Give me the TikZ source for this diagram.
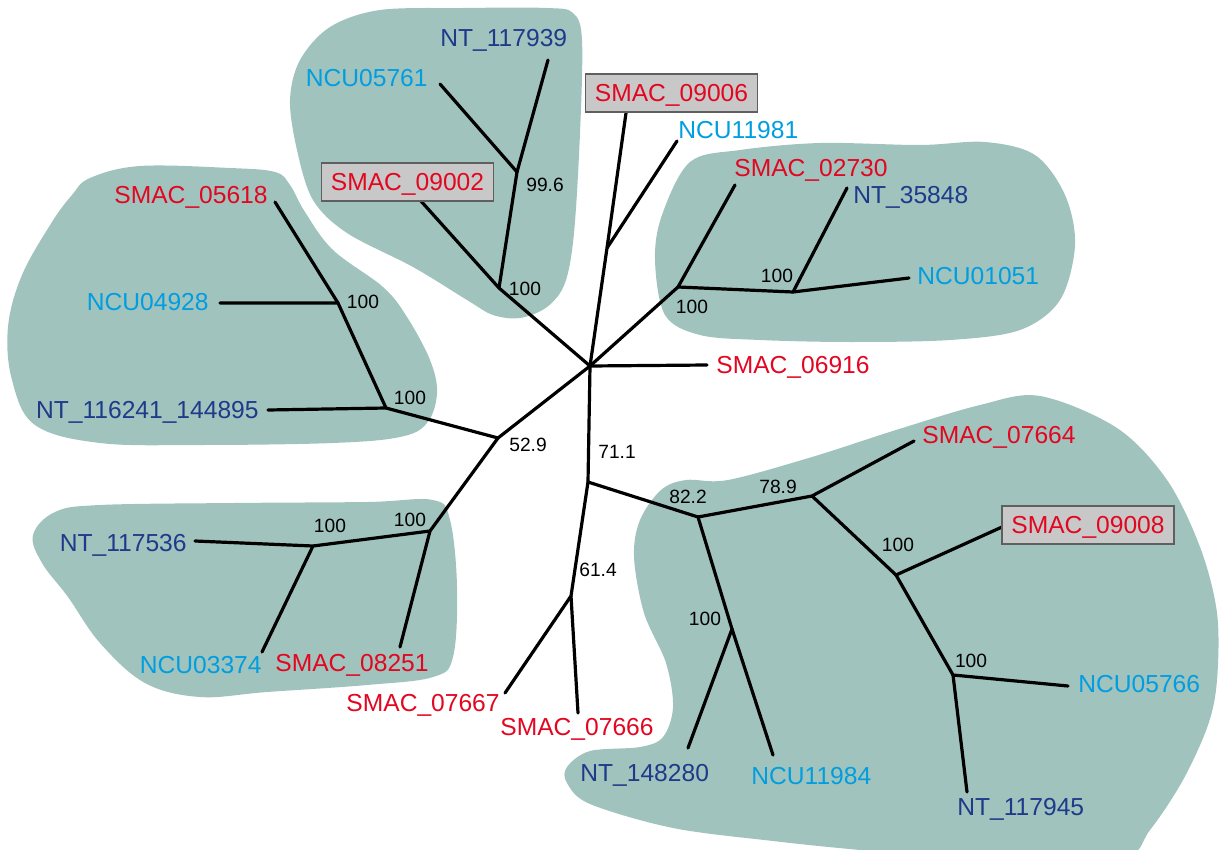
\documentclass[tikz,border=0pt]{standalone}
\usepackage{fontspec}
\setmainfont{Liberation Sans}
\definecolor{blobc}{RGB}{161,195,189}
\definecolor{smacred}{RGB}{227,6,33}
\definecolor{ncublue}{RGB}{0,158,224}
\definecolor{ntblue}{RGB}{30,58,138}
\definecolor{boxfill}{RGB}{200,200,200}
\definecolor{boxline}{RGB}{95,95,95}
\begin{document}
\begin{tikzpicture}[x=0.5pt,y=-0.5pt,
  leaf/.style={font=\fontsize{12.3}{14}\selectfont, inner sep=0pt, text height=8.8pt, text depth=0pt},
  smac/.style={leaf, text=smacred},
  ncu/.style={leaf, text=ncublue},
  nt/.style={leaf, text=ntblue},
  boxed/.style={draw=boxline, fill=boxfill, line width=0.6pt, minimum width=86pt, minimum height=19pt},
  bs/.style={font=\fontsize{9.6}{11}\selectfont, inner sep=0pt, text height=6.9pt, text depth=0pt},
  br/.style={line width=1.6pt, line cap=round, line join=round},
  blob/.style={fill=blobc}]
\useasboundingbox (0,0) rectangle (1219,850);
% clades
\fill[blob] plot[smooth cycle, tension=0.55] coordinates {(573,13) (582,40) (580,133) (574,233) (565,283) (547,307) (520,318) (493,315) (467,300) (413,267) (347,233) (313,200) (297,150) (290,100) (300,60) (330,27) (380,10) (463,8) (547,8)};
\fill[blob] plot[smooth cycle, tension=0.55] coordinates {(655,260) (662,215) (690,162) (740,150) (820,143) (920,145) (985,142) (1035,155) (1065,195) (1075,245) (1060,300) (1020,330) (950,340) (850,342) (760,340) (700,335) (665,315)};
\fill[blob] plot[smooth cycle, tension=0.6] coordinates {(90,178) (140,166) (230,168) (275,172) (290,185) (305,212) (333,250) (383,287) (407,317) (430,360) (437,393) (427,423) (400,437) (333,443) (200,445) (100,443) (35,425) (12,380) (8,327) (22,275) (52,222) (72,195)};
\fill[blob] plot[smooth cycle, tension=0.6] coordinates {(33,535) (55,512) (100,505) (233,503) (367,502) (433,500) (450,520) (457,587) (453,657) (433,677) (367,685) (267,692) (200,697) (145,683) (100,643) (68,597) (42,563)};
\fill[blob] plot[smooth cycle, tension=0.55] coordinates {(661,490) (686,480) (728,480) (812,457) (896,430) (980,405) (1040,396) (1117,428) (1167,480) (1200,547) (1217,613) (1217,680) (1208,725) (1183,780) (1150,830) (1120,860) (1000,862) (860,850) (773,841) (673,828) (590,804) (567,783) (567,767) (590,751) (640,747) (663,737) (673,707) (666,663) (644,613) (634,557) (640,520)};
% internal nodes
\coordinate (C) at (590,366);
\coordinate (A1) at (517,172);
\coordinate (A2) at (499,288);
\coordinate (J) at (607,248);
\coordinate (B1) at (678,287);
\coordinate (B2) at (793,292);
\coordinate (E) at (498,438);
\coordinate (D1) at (338,303);
\coordinate (D2) at (386,408);
\coordinate (N1) at (313,546);
\coordinate (N2) at (430,531);
\coordinate (F) at (588,482);
\coordinate (G) at (571,596);
\coordinate (H) at (698,517);
\coordinate (I) at (732,629);
\coordinate (K) at (812,496);
\coordinate (L) at (896,575);
\coordinate (M) at (953,675);
% tips
\coordinate (t117939) at (548,60);
\coordinate (t05761) at (440,84);
\coordinate (t09002) at (420,200);
\coordinate (t09006) at (626,113);
\coordinate (t11981) at (677,141);
\coordinate (t02730) at (735,185);
\coordinate (t35848) at (847,188);
\coordinate (t01051) at (909,278);
\coordinate (t06916) at (707,365);
\coordinate (t05618) at (275,202);
\coordinate (t04928) at (220,303);
\coordinate (t116241) at (268,410);
\coordinate (t117536) at (195,541);
\coordinate (t03374) at (262,652);
\coordinate (t08251) at (400,647);
\coordinate (t07667) at (505,693);
\coordinate (t07666) at (578,713);
\coordinate (t148280) at (688,748);
\coordinate (t11984) at (773,755);
\coordinate (t07664) at (914,441);
\coordinate (t09008) at (1002,527);
\coordinate (t05766) at (1068,686);
\coordinate (t117945) at (967,792);
% branches
\draw[br] (C) -- (A2) -- (t09002);
\draw[br] (A2) -- (A1) -- (t05761);
\draw[br] (A1) -- (t117939);
\draw[br] (C) -- (J) -- (t09006);
\draw[br] (J) -- (t11981);
\draw[br] (C) -- (B1) -- (t02730);
\draw[br] (B1) -- (B2) -- (t35848);
\draw[br] (B2) -- (t01051);
\draw[br] (C) -- (t06916);
\draw[br] (C) -- (E) -- (D2) -- (t116241);
\draw[br] (D2) -- (D1) -- (t04928);
\draw[br] (D1) -- (t05618);
\draw[br] (E) -- (N2) -- (t08251);
\draw[br] (N2) -- (N1) -- (t117536);
\draw[br] (N1) -- (t03374);
\draw[br] (C) -- (F) -- (G) -- (t07667);
\draw[br] (G) -- (t07666);
\draw[br] (F) -- (H) -- (I) -- (t148280);
\draw[br] (I) -- (t11984);
\draw[br] (H) -- (K) -- (t07664);
\draw[br] (K) -- (L) -- (t09008);
\draw[br] (L) -- (M) -- (t05766);
\draw[br] (M) -- (t117945);
% leaf labels
\node[nt, anchor=west] (l117939) at (440,38) {NT\_117939};
\node[ncu, anchor=east] (l05761) at (428,78) {NCU05761};
\node[smac, boxed] (l09002) at (407.5,182) {SMAC\_09002};
\node[smac, boxed] (l09006) at (671.5,93) {SMAC\_09006};
\node[ncu, anchor=west] (l11981) at (678,130) {NCU11981};
\node[smac, anchor=west] (l02730) at (734,168) {SMAC\_02730};
\node[nt, anchor=west] (l35848) at (853,195) {NT\_35848};
\node[ncu, anchor=west] (l01051) at (917,276) {NCU01051};
\node[smac, anchor=west] (l06916) at (716,365) {SMAC\_06916};
\node[smac, anchor=east] (l05618) at (268,195) {SMAC\_05618};
\node[ncu, anchor=east] (l04928) at (209,302) {NCU04928};
\node[nt, anchor=east] (l116241) at (259,410) {NT\_116241\_144895};
\node[nt, anchor=east] (l117536) at (187,543) {NT\_117536};
\node[ncu, anchor=east] (l03374) at (262,665) {NCU03374};
\node[smac, anchor=west] (l08251) at (275,663) {SMAC\_08251};
\node[smac, anchor=east] (l07667) at (500,703) {SMAC\_07667};
\node[smac, anchor=west] (l07666) at (500,727) {SMAC\_07666};
\node[smac, anchor=west] (l07664) at (922,435) {SMAC\_07664};
\node[smac, boxed] (l09008) at (1088,525) {SMAC\_09008};
\node[ncu, anchor=west] (l05766) at (1078,684) {NCU05766};
\node[nt, anchor=west] (l148280) at (580,773) {NT\_148280};
\node[ncu, anchor=west] (l11984) at (751,776) {NCU11984};
\node[nt, anchor=west] (l117945) at (957,807) {NT\_117945};
% support values
\node[bs] (s1) at (545,185) {99.6};
\node[bs] (s2) at (525,289) {100};
\node[bs] (s3) at (777,276) {100};
\node[bs] (s4) at (692,307) {100};
\node[bs] (s5) at (363,302) {100};
\node[bs] (s6) at (410,398) {100};
\node[bs] (s7) at (528,445) {52.9};
\node[bs] (s8) at (330,526) {100};
\node[bs] (s9) at (410,520) {100};
\node[bs] (s10) at (617,452) {71.1};
\node[bs] (s11) at (598,570) {61.4};
\node[bs] (s12) at (688,497) {82.2};
\node[bs] (s13) at (705,619) {100};
\node[bs] (s14) at (778,487) {78.9};
\node[bs] (s15) at (898,545) {100};
\node[bs] (s16) at (971,661) {100};
\end{tikzpicture}
\end{document}
